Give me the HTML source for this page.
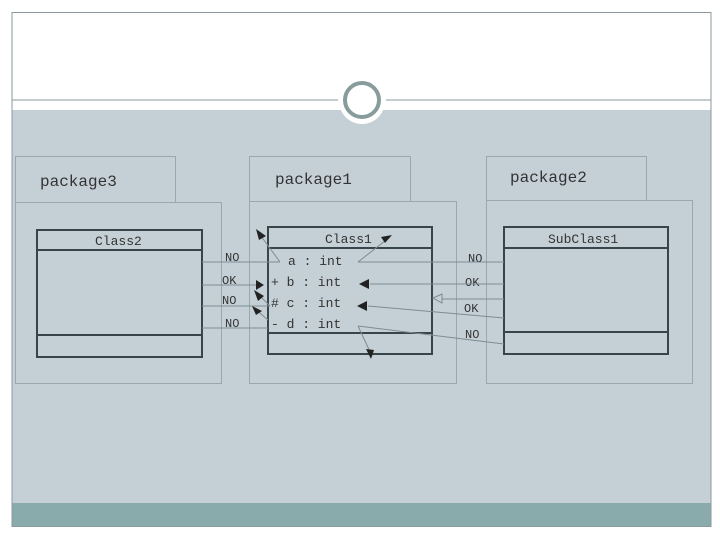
<!DOCTYPE html>
<html><head><style>
html,body{margin:0;padding:0;background:#fff;width:720px;height:540px;overflow:hidden}
svg text{font-family:"Liberation Mono",monospace}
</style></head><body>
<svg width="720" height="540" xmlns="http://www.w3.org/2000/svg">
<rect x="12" y="110" width="699" height="393" fill="#c5d0d6"/>
<rect x="12" y="503" width="699" height="24" fill="#8aabab"/>
<rect x="12" y="12.5" width="699" height="514" fill="none" stroke="#8a9a9e" stroke-width="1"/>
<line x1="12" y1="100" x2="338" y2="100" stroke="#8a9a9e"/>
<line x1="386" y1="100" x2="711" y2="100" stroke="#8a9a9e"/>
<ellipse cx="362" cy="101" rx="23" ry="23" fill="#fff"/>
<ellipse cx="362" cy="100" rx="17" ry="17" fill="#fff" stroke="#889c9c" stroke-width="4"/>
<g fill="none" stroke="#98a8ae" stroke-width="1">
<rect x="15.5" y="156.5" width="160" height="46"/><rect x="15.5" y="202.5" width="206" height="181"/>
<rect x="249.5" y="156.5" width="161" height="45"/><rect x="249.5" y="201.5" width="207" height="182"/>
<rect x="486.5" y="156.5" width="160" height="44"/><rect x="486.5" y="200.5" width="206" height="183"/>
</g>
<g fill="none" stroke="#37444a" stroke-width="2">
<rect x="37" y="230" width="165" height="127"/><line x1="37" y1="250" x2="202" y2="250"/><line x1="37" y1="335" x2="202" y2="335"/>
<rect x="268" y="227" width="164" height="127"/><line x1="268" y1="248" x2="432" y2="248"/><line x1="268" y1="333" x2="432" y2="333"/>
<rect x="504" y="227" width="164" height="127"/><line x1="504" y1="248" x2="668" y2="248"/><line x1="504" y1="332" x2="668" y2="332"/>
</g>
<g fill="#333" font-size="16">
<text x="40" y="186">package3</text><text x="275" y="184">package1</text><text x="510" y="182">package2</text>
</g>
<g fill="#333" font-size="13">
<text x="95" y="245">Class2</text><text x="325" y="243">Class1</text><text x="548" y="243">SubClass1</text>
<text x="288" y="265">a : int</text><text x="271" y="286">+ b : int</text><text x="271" y="307"># c : int</text><text x="271" y="328">- d : int</text>
</g>
<g fill="#333" font-size="12" font-family="Liberation Serif,serif">
<text x="225" y="261" font-family="Liberation Serif,serif">NO</text>
<text x="222" y="284" font-family="Liberation Serif,serif">OK</text>
<text x="222" y="304" font-family="Liberation Serif,serif">NO</text>
<text x="225" y="327" font-family="Liberation Serif,serif">NO</text>
<text x="468" y="262" font-family="Liberation Serif,serif">NO</text>
<text x="465" y="286" font-family="Liberation Serif,serif">OK</text>
<text x="464" y="312" font-family="Liberation Serif,serif">OK</text>
<text x="465" y="338" font-family="Liberation Serif,serif">NO</text>
</g>
<g stroke="#7d8c92" stroke-width="1" fill="none">
<line x1="202" y1="262" x2="280" y2="262"/><line x1="280" y1="262" x2="258" y2="232"/>
<line x1="202" y1="285" x2="262" y2="285"/>
<line x1="202" y1="306" x2="270" y2="306"/><line x1="270" y1="306" x2="256" y2="292"/>
<line x1="202" y1="328" x2="268" y2="328"/><line x1="268" y1="320" x2="254" y2="308"/>
<line x1="358" y1="262" x2="390" y2="237"/><line x1="358" y1="262" x2="504" y2="262"/>
<line x1="370" y1="284" x2="504" y2="284"/>
<line x1="440" y1="299" x2="504" y2="299"/>
<line x1="368" y1="306" x2="504" y2="318"/>
<line x1="358" y1="326" x2="504" y2="344"/><line x1="358" y1="326" x2="372" y2="356"/>
</g>
<g fill="#222">
<polygon points="256,229 266,236 259,240"/>
<polygon points="392,235 381,237 385,243"/>
<polygon points="264,285 256,280 256,290"/>
<polygon points="254,290 264,296 258,301"/>
<polygon points="252,306 262,311 256,315"/>
<polygon points="359,284 369,279 369,289"/>
<polygon points="357,306 367,301 367,311"/>
<polygon points="371,359 366,349 374,350"/>
</g>
<polygon points="433,298 442,294 442,303" fill="#c5d0d6" stroke="#7d8c92"/>
</svg>
</body></html>
